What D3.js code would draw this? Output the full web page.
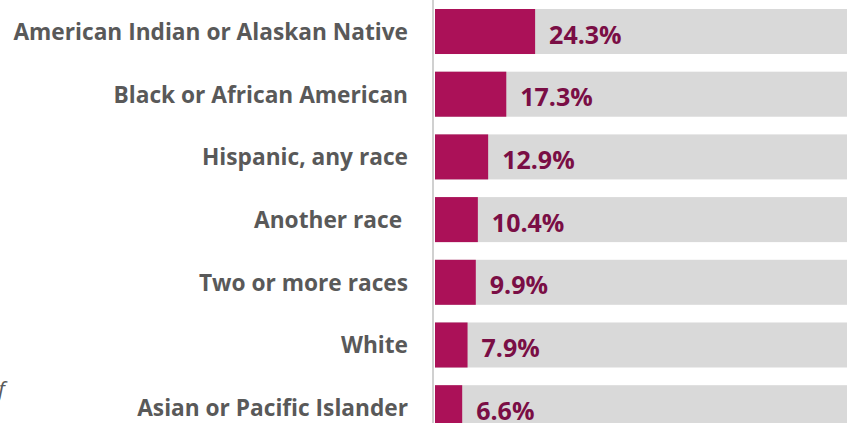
<!DOCTYPE html>
<html>
<head>
<meta charset="utf-8">
<script src="https://cdn.jsdelivr.net/npm/d3@7"></script>
<style>
  body { margin: 0; background: #fff; }
  svg { display: block; }
</style>
</head>
<body>
<svg id="chart" width="854" height="423"></svg>
<script>
"use strict"

const categories = [
    "American Indian or Alaskan Native",
    "Black or African American",
    "Hispanic, any race",
    "Another race ",
    "Two or more races",
    "White",
    "Asian or Pacific Islander"
]
const values = [24.3, 17.3, 12.9, 10.4, 9.9, 7.9, 6.6]
const maxValue = 100

const svg = d3.select("#chart")

const x = d3.scaleLinear().domain([0, maxValue]).range([435, 847])
const y = d3.scaleBand().domain(categories).range([9, 430.2]).paddingInner(0.282).paddingOuter(0)

// grey tracks
svg.selectAll("rect.track")
    .data(categories)
    .enter()
    .append("rect")
    .attr("class", "track")
    .attr("x", x(0))
    .attr("y", d => y(d))
    .attr("width", x(maxValue) - x(0))
    .attr("height", y.bandwidth())
    .style("fill", "#d9d9d9")

// value bars
svg.selectAll("rect.bar")
    .data(values)
    .enter()
    .append("rect")
    .attr("class", "bar")
    .attr("x", x(0))
    .attr("y", (d, i) => y(categories[i]))
    .attr("width", d => x(d) - x(0))
    .attr("height", y.bandwidth())
    .style("fill", "#ab1158")

// axis line
svg.append("line")
    .attr("x1", 433).attr("x2", 433)
    .attr("y1", 0).attr("y2", 423)
    .style("stroke", "#d0d0d0")
    .style("stroke-width", 2)

// category labels
svg.selectAll("text.cat")
    .data(categories)
    .enter()
    .append("text")
    .attr("class", "cat")
    .attr("x", 408)
    .attr("y", d => y(d) + y.bandwidth() / 2)
    .attr("text-anchor", "end")
    .attr("dominant-baseline", "central")
    .style("white-space", "pre")
    .style("font-family", "'Open Sans', sans-serif")
    .style("font-weight", "bold")
    .style("font-size", "22.7px")
    .style("fill", "#595959")
    .text(d => d)

// value labels
svg.selectAll("text.val")
    .data(values)
    .enter()
    .append("text")
    .attr("class", "val")
    .attr("x", d => x(d) + 14)
    .attr("y", (d, i) => y(categories[i]) + y.bandwidth() / 2 + 2)
    .attr("dominant-baseline", "central")
    .style("font-family", "'Open Sans', sans-serif")
    .style("font-weight", "bold")
    .style("font-size", "25px")
    .style("fill", "#7a0e45")
    .text(d => d.toFixed(1) + "%")

// cut-off text from the neighbouring panel
svg.append("text")
    .attr("x", -2).attr("y", 397)
    .style("font-family", "'Open Sans', sans-serif")
    .style("font-style", "italic")
    .style("font-size", "22px")
    .style("fill", "#595959")
    .text("f")
</script>
</body>
</html>
